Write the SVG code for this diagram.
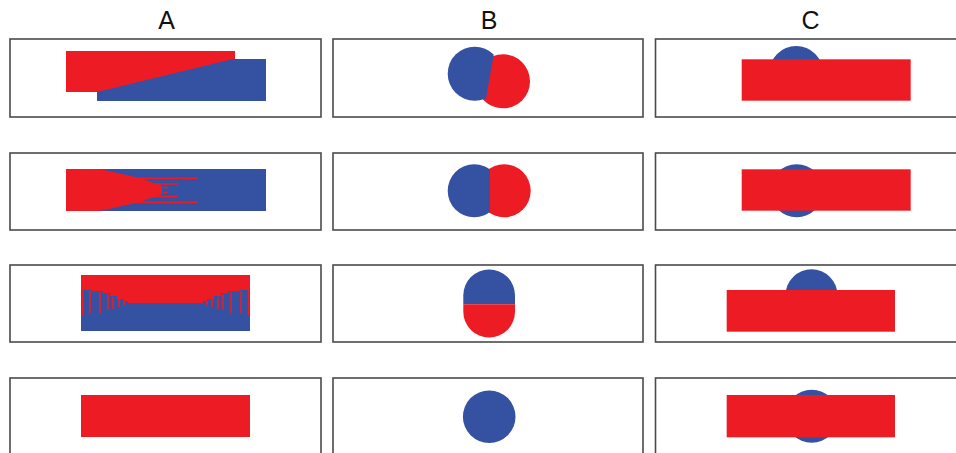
<svg xmlns="http://www.w3.org/2000/svg" width="956" height="453" viewBox="0 0 956 453">
<defs>
<style>
.panel{fill:#fff;stroke:#4a4a4a;stroke-width:1.6}
.r{fill:#ED1C24}
.b{fill:#3451A2}
.rs{stroke:#ED1C24;stroke-width:1.6;fill:none}
.lbl{font-family:"Liberation Sans",Arial,sans-serif;font-size:25px;fill:#111;text-anchor:middle}
</style>
<clipPath id="cB1"><polygon points="430,40 496.3,40 483.9,110 430,110"/></clipPath>
<clipPath id="cB2"><rect x="440" y="150" width="50" height="80"/></clipPath>
</defs>
<rect width="956" height="453" fill="#fff"/>
<g id="labels">
<text class="lbl" x="166.5" y="29">A</text>
<text class="lbl" x="489" y="29">B</text>
<text class="lbl" x="810.5" y="29">C</text>
</g>
<g id="A1">
<rect class="panel" x="10" y="39" width="311" height="78"/>
<rect class="r" x="66" y="51" width="169" height="41"/>
<polygon class="b" points="97,92 233,59 266,59 266,101 97,101"/>
</g>
<g id="A2">
<rect class="panel" x="10" y="153" width="311" height="77"/>
<rect class="b" x="66" y="169" width="200" height="42"/>
<polygon class="r" points="66,169 100,169 140,178 162,186 162,194 140,202 100,211 66,211"/>
<line class="rs" x1="135" y1="178.3" x2="198" y2="178.3"/>
<line class="rs" x1="150" y1="184" x2="178" y2="184"/>
<line class="rs" x1="150" y1="196.5" x2="178" y2="196.5"/>
<line class="rs" x1="135" y1="202.2" x2="198" y2="202.2"/>
<path class="rs" d="M163,187.5 H168 M163,192.5 H168"/>
</g>
<g id="A3">
<rect class="panel" x="10" y="265" width="311" height="77"/>
<rect class="r" x="81" y="275" width="169" height="56"/>
<polygon class="b" points="81,331 81,290 92,290 92,291 103,291 103,293 110,293 110,296 117,296 117,299 124,299 124,301 128,301 128,303 203,303 203,301 207,301 207,299 214,299 214,296 221,296 221,293 228,293 228,291 239,291 239,290 250,290 250,331"/>
<path class="rs" d="M82.5,290 V315 M90,291 V313 M100,292 V313 M108,294 V310 M113,297 V309 M119,299 V307 M124,301 V305 M248.5,290 V315 M241,291 V313 M231,292 V313 M223,294 V310 M218,297 V309 M212,299 V307 M207,301 V305"/>
</g>
<g id="A4">
<rect class="panel" x="10" y="378" width="311" height="90"/>
<rect class="r" x="81" y="395" width="169" height="42"/>
</g>
<g id="B1">
<rect class="panel" x="333" y="39" width="310" height="78"/>
<circle class="r" cx="503" cy="81.3" r="27"/>
<circle class="b" cx="474.7" cy="73.7" r="27" clip-path="url(#cB1)"/>
</g>
<g id="B2">
<rect class="panel" x="333" y="153" width="310" height="77"/>
<circle class="r" cx="504.2" cy="190.8" r="26.5"/>
<circle class="b" cx="474.2" cy="190.8" r="26.5" clip-path="url(#cB2)"/>
</g>
<g id="B3">
<rect class="panel" x="333" y="265" width="310" height="77"/>
<path class="b" d="M463.3,304.3 V295.3 A25.85,25.85 0 0 1 515,295.3 V304.3 Z"/>
<path class="r" d="M463.3,304.3 V311.7 A25.85,25.85 0 0 0 515,311.7 V304.3 Z"/>
</g>
<g id="B4">
<rect class="panel" x="333" y="378" width="310" height="90"/>
<circle class="b" cx="489.2" cy="416.7" r="26.3"/>
</g>
<g id="C1">
<rect class="panel" x="655.5" y="39" width="320" height="78"/>
<circle class="b" cx="796.2" cy="73" r="27"/>
<rect class="r" x="741.7" y="59.3" width="169" height="41.4"/>
</g>
<g id="C2">
<rect class="panel" x="655.5" y="153" width="320" height="77"/>
<circle class="b" cx="796.7" cy="190.8" r="26.5"/>
<rect class="r" x="741.7" y="169.3" width="169" height="41.4"/>
</g>
<g id="C3">
<rect class="panel" x="655.5" y="265" width="320" height="77"/>
<circle class="b" cx="811.5" cy="295.3" r="26"/>
<rect class="r" x="726.7" y="290" width="168.3" height="41.7"/>
</g>
<g id="C4">
<rect class="panel" x="655.5" y="378" width="320" height="90"/>
<circle class="b" cx="811.7" cy="416.3" r="26.5"/>
<rect class="r" x="726.7" y="395" width="168.3" height="42.3"/>
</g>
</svg>
